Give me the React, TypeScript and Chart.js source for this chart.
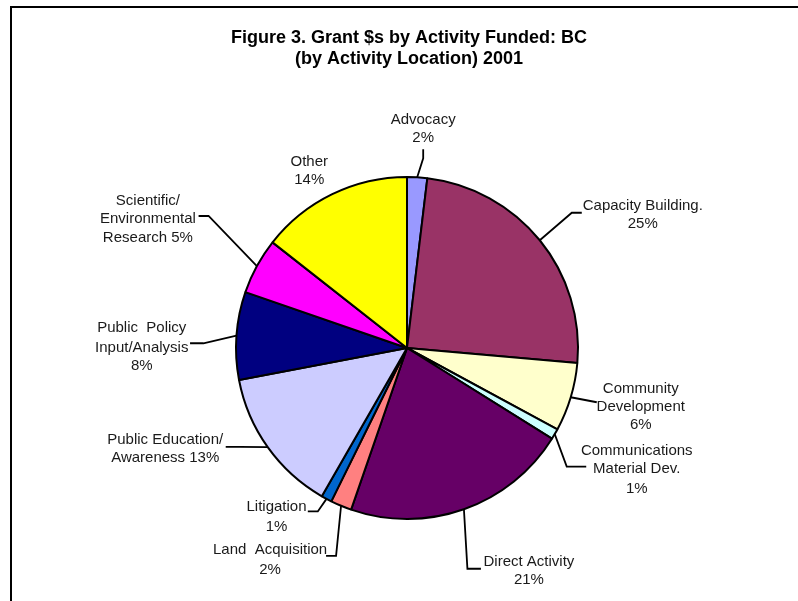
import React, { useEffect, useRef } from "react";
import { Chart, registerables } from "chart.js";

Chart.register(...registerables);

// ---- Data ----
const titleLines = ["Figure 3. Grant $s by Activity Funded: BC", "(by Activity Location) 2001"];

const categories = [
  "Advocacy",
  "Capacity Building.",
  "Community Development",
  "Communications Material Dev.",
  "Direct Activity",
  "Land Acquisition",
  "Litigation",
  "Public Education/Awareness",
  "Public Policy Input/Analysis",
  "Scientific/Environmental Research",
  "Other",
];

// share of grant $ (percent)
const shares = [1.9, 24.5, 6.5, 1.0, 21.4, 2.0, 1.0, 13.7, 8.3, 5.3, 14.4];

// data labels as printed on the chart
const labelLines = [
  ["Advocacy", "2%"],
  ["Capacity Building.", "25%"],
  ["Community", "Development", "6%"],
  ["Communications", "Material Dev.", "1%"],
  ["Direct Activity", "21%"],
  ["Land  Acquisition", "2%"],
  ["Litigation", "1%"],
  ["Public Education/", "Awareness 13%"],
  ["Public  Policy", "Input/Analysis", "8%"],
  ["Scientific/", "Environmental", "Research 5%"],
  ["Other", "14%"],
];

const colors = [
  "#9999FF",
  "#993366",
  "#FFFFCC",
  "#CCFFFF",
  "#660066",
  "#FF8080",
  "#0066CC",
  "#CCCCFF",
  "#000080",
  "#FF00FF",
  "#FFFF00",
];

// ---- Label layout (offsets relative to the slice's mid-angle point on the rim) ----
type Layout = { tx: number; ty: number[]; lead: number[][] };
const labelLayout: Layout[] = [
  { tx: 6, ty: [-57, -39], lead: [[6, -19], [6, -28]] },
  { tx: 103, ty: [-34, -16], lead: [[32, -27.5], [42, -27.5]] },
  { tx: 70, ty: [-8.8, 9.6, 27.9], lead: [[26, 5]] },
  { tx: 82, ty: [16.5, 35, 55], lead: [[12, 32.5], [31.5, 32.5]] },
  { tx: 65, ty: [53, 71], lead: [[3.5, 59.5], [17, 59.5]] },
  { tx: -71, ty: [44, 64], lead: [[-5, 50], [-15, 50]] },
  { tx: -50, ty: [7.6, 27.6], lead: [[-8.7, 12.6], [-18.7, 12.6]] },
  { tx: -102.5, ty: [-7.7, 10.6], lead: [[-28, -0.4], [-42, -0.4]] },
  { tx: -94.7, ty: [-8.1, 11.9, 30.3], lead: [[-33, 7.6], [-46.4, 7.6]] },
  { tx: -109, ty: [-65.1, -46.8, -28.5], lead: [[-48.3, -50.1], [-58.3, -50.1]] },
  { tx: -23, ty: [-32.7, -13.9], lead: [] },
];

const FONT = '"Liberation Sans", Arial, Helvetica, sans-serif';

const decorPlugin = {
  id: "decor",
  afterDraw(chart: any) {
    const ctx: CanvasRenderingContext2D = chart.ctx;
    ctx.save();
    // frame
    ctx.strokeStyle = "#000";
    ctx.lineWidth = 2;
    ctx.beginPath();
    ctx.moveTo(11, 601);
    ctx.lineTo(11, 7);
    ctx.lineTo(798, 7);
    ctx.stroke();

    // title
    ctx.fillStyle = "#000";
    ctx.textAlign = "center";
    ctx.textBaseline = "middle";
    ctx.font = `bold 18px ${FONT}`;
    titleLines.forEach((t, i) => ctx.fillText(t, 409, 38 + i * 21));

    // data labels + leader lines
    const meta = chart.getDatasetMeta(0);
    ctx.font = `15px ${FONT}`;
    meta.data.forEach((arc: any, i: number) => {
      const p = arc.getProps(["x", "y", "startAngle", "endAngle", "outerRadius"], true);
      const mid = (p.startAngle + p.endAngle) / 2;
      const ax = p.x + Math.cos(mid) * p.outerRadius;
      const ay = p.y + Math.sin(mid) * p.outerRadius;
      const lay = labelLayout[i];
      if (lay.lead.length) {
        ctx.strokeStyle = "#000";
        ctx.lineWidth = 1.8;
        ctx.beginPath();
        ctx.moveTo(ax, ay);
        lay.lead.forEach(([dx, dy]) => ctx.lineTo(ax + dx, ay + dy));
        ctx.stroke();
      }
      ctx.fillStyle = "#1a1a1a";
      labelLines[i].forEach((line, j) => {
        ctx.fillText(line, ax + lay.tx, ay + lay.ty[j]);
      });
    });
    ctx.restore();
  },
};

export default function App() {
  const canvasRef = useRef<HTMLCanvasElement | null>(null);

  useEffect(() => {
    document.body.style.margin = "0";
    const canvas = canvasRef.current;
    if (!canvas) return;
    const chart = new Chart(canvas, {
      type: "pie",
      data: {
        labels: categories,
        datasets: [
          {
            data: shares,
            backgroundColor: colors,
            borderColor: "#000",
            borderWidth: 2,
          },
        ],
      },
      options: {
        responsive: false,
        devicePixelRatio: 1,
        animation: false,
        events: [],
        radius: 171,
        rotation: 0,
        layout: { padding: { left: 16, right: 0, top: 95, bottom: 0 } },
        plugins: {
          legend: { display: false },
          title: { display: false },
          tooltip: { enabled: false },
        },
      } as any,
      plugins: [decorPlugin],
    });
    return () => chart.destroy();
  }, []);

  return (
    <div style={{ position: "absolute", left: 0, top: 0, width: 798, height: 601, background: "#fff" }}>
      <canvas ref={canvasRef} width={798} height={601} style={{ display: "block" }} />
    </div>
  );
}
